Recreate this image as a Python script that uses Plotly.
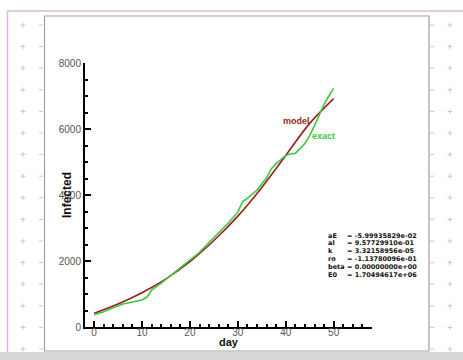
import plotly.graph_objects as go

days_model = [0, 5, 10, 15, 20, 25, 30, 35, 40, 45, 50]
model = [420, 700, 1040, 1460, 1980, 2620, 3360, 4230, 5200, 6170, 6920]

days_exact = [0, 2, 4, 6, 8, 10, 11, 12, 14, 16, 18, 20, 22, 24, 26, 28, 30, 31, 32,
              34, 36, 37, 38, 40, 41, 42, 44, 45, 46, 47, 48, 49, 50]
exact = [370, 460, 580, 700, 760, 820, 900, 1120, 1330, 1560, 1780, 2010, 2260, 2560,
         2850, 3150, 3480, 3800, 3900, 4150, 4520, 4800, 4950, 5200, 5250, 5260, 5560,
         5800, 6100, 6450, 6750, 7000, 7230]

param_names = ["aE", "al", "k", "ro", "beta", "E0"]
param_values = ["= -5.99935829e-02", "= 9.57729910e-01", "= 3.32158956e-05",
                "= -1.13780096e-01", "= 0.00000000e+00", "= 1.70494617e+06"]

W, H = 463, 360
L, R, T, B = 85, 372, 63, 327
PW, PH = R - L, B - T

def px(x):
    return (x - L) / PW

def py(y):
    return (B - y) / PH

FONT = "Liberation Sans, Arial, sans-serif"
PFONT = "DejaVu Sans, sans-serif"
RED = "#9b1c1c"
GREEN = "#3cc83c"

fig = go.Figure()
fig.add_trace(go.Scatter(x=days_model, y=model, mode="lines", line=dict(color=RED, width=1.6, shape="spline"),
                         showlegend=False))
fig.add_trace(go.Scatter(x=days_exact, y=exact, mode="lines", line=dict(color=GREEN, width=1.6),
                         showlegend=False))

shapes = []
shapes.append(dict(type="rect", xref="paper", yref="paper", x0=px(7.5), x1=px(470), y0=py(11), y1=py(370),
                   line=dict(color="#dcbcdc", width=1.5), fillcolor="rgba(0,0,0,0)", layer="below"))
ys = [25 + 21.6 * i for i in range(16)]
for cx in (23, 450):
    for cy in ys:
        shapes.append(dict(type="line", xref="paper", yref="paper", x0=px(cx - 2.5), x1=px(cx + 2.5),
                           y0=py(cy), y1=py(cy), line=dict(color="#c8c8c8", width=1), layer="below"))
        shapes.append(dict(type="line", xref="paper", yref="paper", x0=px(cx), x1=px(cx),
                           y0=py(cy - 2.5), y1=py(cy + 2.5), line=dict(color="#c8c8c8", width=1), layer="below"))
for cx in (41, 432):
    for cy in ys:
        shapes.append(dict(type="line", xref="paper", yref="paper", x0=px(cx - 2), x1=px(cx + 2),
                           y0=py(cy), y1=py(cy), line=dict(color="#c8c8c8", width=1), layer="below"))
shapes.append(dict(type="rect", xref="paper", yref="paper", x0=px(44.5), x1=px(429), y0=py(16), y1=py(351),
                   line=dict(color="#a0a0a0", width=1.2), fillcolor="white", layer="below"))
shapes.append(dict(type="rect", xref="paper", yref="paper", x0=px(0), x1=px(470), y0=py(352), y1=py(362),
                   line=dict(width=0), fillcolor="#d8d8d8", layer="below"))

annotations = [
    dict(x=42.3, y=6240, xref="x", yref="y", text="<b>model</b>", showarrow=False,
         font=dict(family=FONT, size=9, color=RED)),
    dict(x=47.9, y=5800, xref="x", yref="y", text="<b>exact</b>", showarrow=False,
         font=dict(family=FONT, size=9, color=GREEN)),
    dict(x=px(229), y=py(349), xref="paper", yref="paper", text="<b>day</b>", showarrow=False,
         borderpad=0, font=dict(family=FONT, size=11, color="#111")),
    dict(x=px(58), y=py(195), xref="paper", yref="paper", text="<b>Infected</b>", showarrow=False,
         textangle=-90, font=dict(family=FONT, size=12, color="#111")),
]
for i, (n, v) in enumerate(zip(param_names, param_values)):
    yy = 241.5 + 7.9 * i
    annotations.append(dict(x=px(326), y=py(yy), xref="paper", yref="paper", text="<b>%s</b>" % n,
                            showarrow=False, xanchor="left", font=dict(family=PFONT, size=6.5, color="#111")))
    annotations.append(dict(x=px(344.5), y=py(yy), xref="paper", yref="paper", text="<b>%s</b>" % v,
                            showarrow=False, xanchor="left", font=dict(family=PFONT, size=6.5, color="#111")))

fig.update_layout(
    width=W, height=H,
    margin=dict(l=L, r=W - R, t=T, b=H - B),
    paper_bgcolor="white", plot_bgcolor="white",
    shapes=shapes, annotations=annotations,
    xaxis=dict(range=[-1.9, 58], tickvals=[0, 10, 20, 30, 40, 50], showgrid=False, zeroline=False,
               showline=True, linecolor="black", linewidth=2, ticks="inside", ticklen=6, tickwidth=1.5,
               tickcolor="black", minor=dict(dtick=2, tick0=0, ticks="inside", ticklen=3, tickcolor="black", showgrid=False),
               tickfont=dict(family=FONT, size=10, color="#555"), ticklabelstandoff=-5),
    yaxis=dict(range=[0, 8000], tickvals=[0, 2000, 4000, 6000, 8000], showgrid=False, zeroline=False,
               showline=True, linecolor="black", linewidth=2, ticks="inside", ticklen=6, tickwidth=1.5,
               tickcolor="black", minor=dict(dtick=500, tick0=0, ticks="inside", ticklen=3, tickcolor="black", showgrid=False),
               tickfont=dict(family=FONT, size=10, color="#555")),
)

fig.write_html("out.html", config={"displayModeBar": False},
               post_script="document.body.style.margin='0';document.body.style.overflow='hidden';")
